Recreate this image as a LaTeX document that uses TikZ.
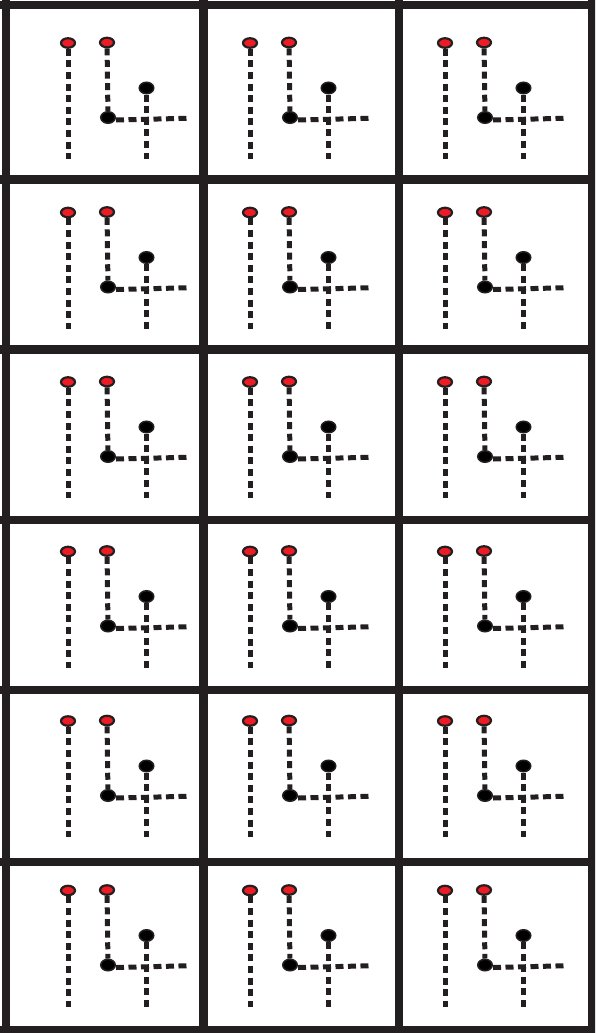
\documentclass[tikz,border=0pt]{standalone}
\usetikzlibrary{shapes.geometric,backgrounds}
\definecolor{ink}{HTML}{231F20}
\definecolor{pinred}{HTML}{ED1C24}
\tikzset{
  frame/.style={draw=ink,line width=8.5pt},
  reddot/.style={ellipse,draw=ink,fill=pinred,line width=2.2pt,minimum width=14pt,minimum height=9.5pt,inner sep=0pt},
  blackdot/.style={ellipse,draw=ink,fill=black,line width=1.5pt,minimum width=14.5pt,minimum height=11.5pt,inner sep=0pt},
  wire/.style={draw=ink,line width=5pt,dash pattern=on 7pt off 4.6pt},
  hwire/.style={draw=ink,line width=5pt,dash pattern=on 8pt off 4.5pt}
}
\begin{document}
\begin{tikzpicture}[x=1pt,y=-1pt]
\path[use as bounding box] (0,0) rectangle (595,1033);
\clip (0,0) rectangle (595,1033);
% grid of cells
\foreach \gx in {6,203.5,399,592.5} \draw[frame] (\gx,0) -- (\gx,1033);
\foreach \gy in {5,179.5,349.5,520,690,862,1030.5} \draw[frame] (0,\gy) -- (595,\gy);
% one pin sketch per cell
\foreach \cx [count=\c] in {68,250,445} {
  \foreach \r in {0,...,5} {
    \pgfmathsetmacro\cy{43+169.5*\r}
    \node[reddot] (pa\r\c) at (\cx,\cy) {};
    \node[reddot] (pb\r\c) at (\cx+39,\cy-0.5) {};
    \node[blackdot] (kn\r\c) at (\cx+40,\cy+74.5) {};
    \node[blackdot] (tp\r\c) at (\cx+78.5,\cy+45) {};
    \coordinate (pae\r\c) at (\cx,\cy+116);
    \coordinate (tpe\r\c) at (\cx+78.5,\cy+116);
    \coordinate (kne\r\c) at (\cx+119,\cy+75.3);
    \begin{scope}[on background layer]
      \draw[wire] (pa\r\c) -- (pae\r\c);
      \draw[wire] (pb\r\c) -- (kn\r\c);
      \draw[wire] (tp\r\c) -- (tpe\r\c);
      \draw[hwire] ([yshift=-2.5pt]kn\r\c.east) -- (kne\r\c);
    \end{scope}
  }
}
\end{tikzpicture}
\end{document}
